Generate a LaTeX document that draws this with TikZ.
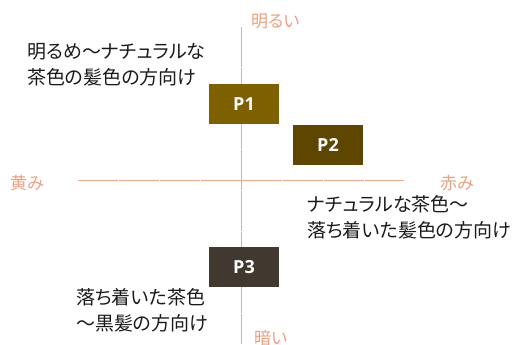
\documentclass[tikz,border=0pt]{standalone}
\usepackage{fontspec}
\setmainfont{Noto Sans CJK JP}[RawFeature=+palt]
\newfontfamily\boxfont{Open Sans}[BoldFont={Open Sans Bold}]
\definecolor{axisc}{HTML}{F0A888}
\definecolor{labc}{HTML}{EE9E7E}
\definecolor{pone}{HTML}{7F6000}
\definecolor{ptwo}{HTML}{5E4600}
\definecolor{pthree}{HTML}{413930}
\definecolor{txt}{HTML}{1A1A1A}
\tikzset{
  axisline/.style={draw=axisc, line width=0.9pt, dash pattern=on 40pt off 1pt},
  axislab/.style={text=labc, font=\fontsize{17}{19}\selectfont, inner sep=0pt},
  pbox/.style={minimum width=70pt, minimum height=40pt, inner sep=0pt, text=white, font=\boxfont\bfseries\fontsize{18}{20}\selectfont},
  desc/.style={text=txt, font=\fontsize{19}{25.5}\selectfont, align=left, inner sep=0pt, anchor=north west},
}
\begin{document}
\begin{tikzpicture}[x=1pt,y=-1pt]
\useasboundingbox (0,0) rectangle (517,345);
\coordinate (vt) at (241,27);
\coordinate (vb) at (241,344);
\coordinate (hl) at (78,180);
\coordinate (hr) at (404,180);
\draw[axisline] (vt) -- (vb);
\draw[axisline] (hl) -- (hr);
\node[axislab, anchor=west] (bright) at (251,21) {明るい};
\node[axislab, anchor=west] (dark) at (254,338) {暗い};
\node[axislab, anchor=west] (yellow) at (10,183) {黄み};
\node[axislab, anchor=west] (red) at (440,183) {赤み};
\node[pbox, fill=pone] (p1) at (244,104) {P1};
\node[pbox, fill=ptwo] (p2) at (328,145) {P2};
\node[pbox, fill=pthree] (p3) at (244,267) {P3};
\node[desc] (d1) at (27,43.5) {明るめ〜ナチュラルな\\茶色の髪色の方向け};
\node[desc] (d2) at (307,195.5) {ナチュラルな茶色〜\\落ち着いた髪色の方向け};
\node[desc] (d3) at (76,288.5) {落ち着いた茶色\\〜黒髪の方向け};
\end{tikzpicture}
\end{document}
